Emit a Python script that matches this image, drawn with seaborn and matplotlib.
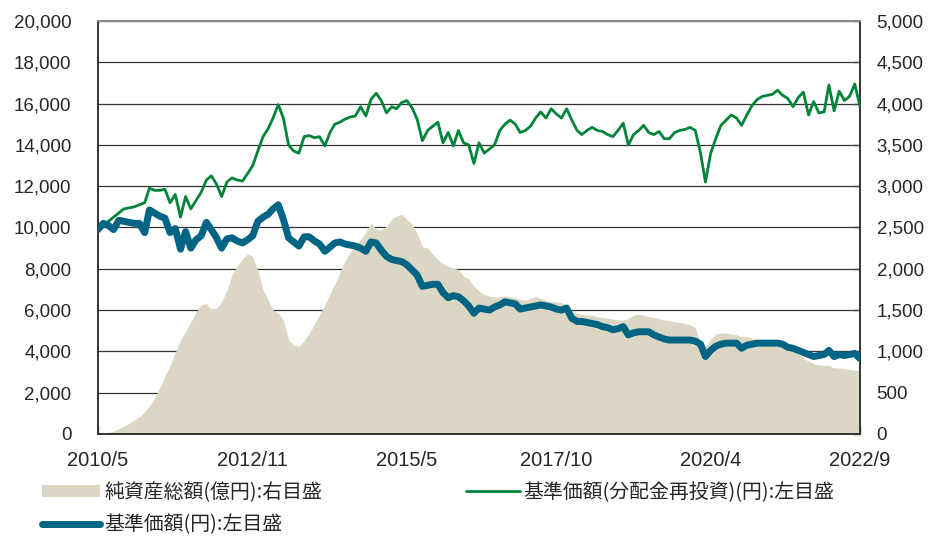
import numpy as np
import pandas as pd
import matplotlib
matplotlib.use("Agg")
import matplotlib.pyplot as plt
from matplotlib.patches import Patch
from matplotlib.lines import Line2D
from matplotlib.ticker import FuncFormatter
import seaborn as sns

# monthly values, 2010/5 .. 2022/9
start_month = "2010-05-01"

# 基準価額(分配金再投資)(円) - left axis
nav_reinvested = [
    10000, 10100, 10300, 10500, 10700, 10900, 10950, 11000, 11100, 11200,
    11900, 11800, 11800, 11850, 11200, 11600, 10500, 11500, 10900, 11300,
    11700, 12300, 12500, 12100, 11500, 12200, 12400, 12300, 12250, 12600,
    13000, 13700, 14400, 14800, 15300, 15950, 15300, 14000, 13700, 13600,
    14400, 14450, 14350, 14400, 13950, 14600, 15000, 15100, 15250, 15350,
    15400, 15850, 15400, 16200, 16500, 16150, 15550, 15850, 15750, 16050,
    16150, 15800, 15250, 14200, 14700, 14900, 15100, 14100, 14600, 13950,
    14700, 14100, 14000, 13100, 14100, 13600, 13800, 14000, 14700, 15000,
    15200, 15000, 14600, 14700, 14900, 15300, 15600, 15300, 15750, 15500,
    15300, 15750, 15200, 14700, 14500, 14700, 14850, 14700, 14650, 14500,
    14400, 14700, 15050, 14000, 14500, 14700, 14950, 14600, 14500, 14650,
    14300, 14300, 14600, 14700, 14750, 14850, 14700, 13600, 12200, 13600,
    14300, 14950, 15200, 15450, 15300, 14950, 15450, 15900, 16200, 16350,
    16400, 16450, 16650, 16400, 16250, 15850, 16300, 16550, 15450, 16100,
    15550, 15600, 16900, 15650, 16600, 16150, 16350, 16950, 15850,
]

# 基準価額(円) - left axis
nav = [
    9900, 10200, 10100, 9900, 10350, 10300, 10250, 10200, 10200, 9750,
    10850, 10700, 10550, 10450, 9750, 9950, 8950, 9800, 9000, 9400,
    9600, 10250, 9900, 9500, 9000, 9450, 9500, 9350, 9250, 9400,
    9600, 10300, 10500, 10650, 10900, 11100, 10400, 9500, 9300, 9100,
    9550, 9550, 9350, 9200, 8850, 9050, 9250, 9300, 9200, 9150,
    9100, 9000, 8850, 9300, 9250, 8900, 8600, 8450, 8400, 8350,
    8200, 7950, 7700, 7150, 7200, 7250, 7250, 6850, 6600, 6700,
    6650, 6450, 6200, 5850, 6100, 6050, 6000, 6150, 6250, 6400,
    6350, 6300, 6050, 6100, 6150, 6200, 6250, 6200, 6150, 6050,
    6000, 6100, 5600, 5450, 5450, 5400, 5350, 5300, 5200, 5150,
    5050, 5100, 5200, 4800, 4900, 4950, 4950, 4950, 4800, 4700,
    4600, 4550, 4550, 4550, 4550, 4550, 4500, 4350, 3750, 4050,
    4250, 4350, 4400, 4400, 4400, 4150, 4300, 4350, 4400, 4400,
    4400, 4400, 4400, 4350, 4200, 4150, 4050, 3950, 3850, 3750,
    3800, 3850, 4050, 3750, 3850, 3800, 3850, 3900, 3650,
]

# 純資産総額(億円) - right axis
net_assets = [
    0, 5, 15, 35, 65, 95, 130, 170, 210, 270,
    340, 440, 560, 700, 830, 990, 1130, 1240, 1360, 1470,
    1560, 1580, 1510, 1520, 1600, 1740, 1920, 2030, 2120, 2180,
    2150, 1980, 1750, 1620, 1500, 1460, 1380, 1140, 1080, 1060,
    1130, 1220, 1330, 1450, 1560, 1700, 1810, 1960, 2100, 2200,
    2290, 2350, 2440, 2560, 2480, 2470, 2520, 2600, 2640, 2660,
    2600, 2540, 2430, 2270, 2250, 2180, 2110, 2060, 2030, 2010,
    1990, 1910, 1880, 1790, 1730, 1690, 1670, 1660, 1660, 1670,
    1660, 1650, 1630, 1620, 1640, 1660, 1640, 1620, 1600, 1600,
    1590, 1560, 1480, 1460, 1450, 1440, 1440, 1420, 1410, 1400,
    1390, 1380, 1380, 1400, 1440, 1450, 1440, 1420, 1410, 1400,
    1380, 1370, 1360, 1350, 1340, 1320, 1290, 1100, 1060, 1150,
    1210, 1220, 1220, 1210, 1200, 1180, 1180, 1160, 1140, 1130,
    1130, 1120, 1110, 1080, 1050, 1030, 980, 920, 880, 850,
    835, 830, 830, 800, 800, 790, 780, 775, 760,
]

x_tick_labels = ["2010/5", "2012/11", "2015/5", "2017/10", "2020/4", "2022/9"]

label_assets = "純資産総額(億円):右目盛"
label_reinv = "基準価額(分配金再投資)(円):左目盛"
label_nav = "基準価額(円):左目盛"

beige = "#DCD7C4"
green = "#00843A"
teal = "#006484"

dates = pd.date_range(start_month, periods=len(nav), freq="MS")
df = pd.DataFrame({"date": dates, "reinv": nav_reinvested, "nav": nav, "assets": net_assets})

sns.set_theme(style="white")
plt.rcParams["font.family"] = ["Liberation Sans", "Noto Sans CJK JP", "DejaVu Sans"]

fig = plt.figure(figsize=(9.45, 5.42), dpi=100)
ax2 = fig.add_axes([98 / 945, 108 / 542, 762 / 945, 413 / 542])
ax = ax2.twinx()

# right axis: net assets area (behind), grid lives here so the area covers it
ax2.yaxis.tick_right()
ax2.yaxis.set_label_position("right")
ax2.fill_between(df["date"], 0, df["assets"], color=beige, linewidth=0, zorder=2)
ax2.set_ylim(0, 5000)
ax2.set_yticks(np.arange(0, 5001, 500))
ax2.grid(axis="y", color="#333333", linewidth=0.9, zorder=1)
ax2.set_axisbelow(True)
ax2.yaxis.set_major_formatter(FuncFormatter(lambda v, p: f"{int(v):,}"))
ax2.tick_params(axis="y", direction="in", length=5, width=1, color="#444444",
                labelsize=13.5, pad=12, right=True, left=False)

# left axis: the two NAV lines
ax.set_zorder(ax2.get_zorder() + 1)
ax.patch.set_visible(False)
ax.yaxis.tick_left()
ax.yaxis.set_label_position("left")
sns.lineplot(data=df, x="date", y="reinv", ax=ax, color=green, linewidth=2.0, zorder=3)
sns.lineplot(data=df, x="date", y="nav", ax=ax, color=teal, linewidth=5, zorder=4)
ax.set_ylim(0, 20000)
ax.set_yticks(np.arange(0, 20001, 2000))
ax.yaxis.set_major_formatter(FuncFormatter(lambda v, p: f"{int(v):,}"))
ax.tick_params(axis="y", length=0, labelsize=13.5, pad=19)
ax.set_xlabel("")
ax.set_ylabel("")
ax2.set_ylabel("")

tick_dates = [pd.Timestamp(f"{s.split('/')[0]}-{int(s.split('/')[1]):02d}-01") for s in x_tick_labels]
ax2.set_xlim(dates[0], dates[-1])
ax2.set_xticks(tick_dates)
ax2.set_xticklabels(x_tick_labels)
ax2.tick_params(axis="x", direction="in", length=6, width=1, color="#444444",
                labelsize=14.5, pad=12, bottom=True)
ax.tick_params(axis="x", bottom=False, labelbottom=False)

for a in (ax, ax2):
    for side, sp in a.spines.items():
        sp.set_visible(False)
for side in ("left", "bottom", "right"):
    ax2.spines[side].set_visible(True)
    ax2.spines[side].set_color("#333333")
    ax2.spines[side].set_linewidth(1.4)
ax2.spines["top"].set_visible(True)
ax2.spines["top"].set_color("#888888")
ax2.spines["top"].set_linewidth(1.4)

# legends
h_assets = Patch(facecolor=beige, edgecolor="none")
h_nav = Line2D([], [], color=teal, linewidth=5)
h_reinv = Line2D([], [], color=green, linewidth=2)
leg_font = {"family": ["Noto Sans CJK JP", "DejaVu Sans"], "size": 14.3}
leg1 = fig.legend([h_assets, h_nav], [label_assets, label_nav], loc="upper left",
                  bbox_to_anchor=(42 / 945, 1 - 482 / 542), frameon=False, prop=leg_font,
                  handlelength=2.9, handleheight=0.5, handletextpad=0.25,
                  labelspacing=0.55, borderpad=0, borderaxespad=0)
leg2 = fig.legend([h_reinv], [label_reinv], loc="upper left",
                  bbox_to_anchor=(466 / 945, 1 - 482 / 542), frameon=False, prop=leg_font,
                  handlelength=2.7, handletextpad=0.2, borderpad=0, borderaxespad=0)

fig.savefig("out.png", dpi=100)
